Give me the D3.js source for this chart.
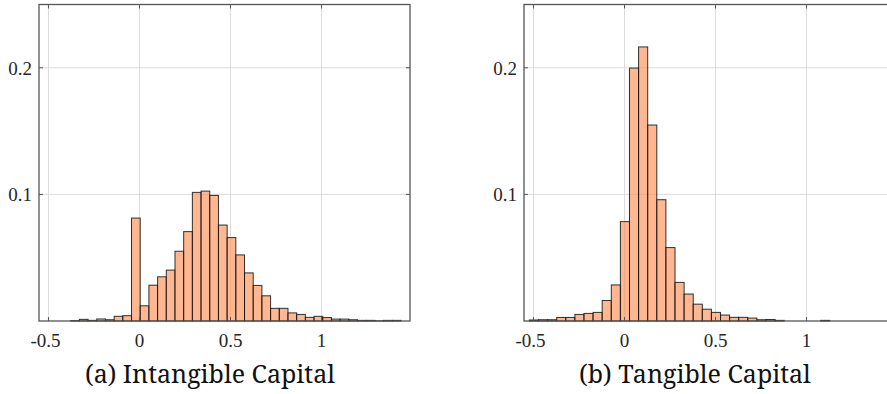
<!DOCTYPE html>
<html>
<head>
<meta charset="utf-8">
<script src="https://cdn.jsdelivr.net/npm/d3@7"></script>
<style>
  html, body { margin: 0; padding: 0; background: #fff; }
  svg { display: block; }
</style>
</head>
<body>
<svg id="chart" width="887" height="394"></svg>
<script>
// Histogram bins: first left edge, bin width, and probability per bin
const intangibleBinStart = -0.378;
const intangibleBinWidth = 0.04775;
const intangibleValues = [
  0.0003, 0.0013, 0.0005, 0.0016, 0.0010, 0.0037, 0.0042, 0.0813,
  0.0120, 0.0283, 0.0349, 0.0402, 0.0551, 0.0706, 0.1016, 0.1026,
  0.0992, 0.0758, 0.0659, 0.0522, 0.0380, 0.0281, 0.0199, 0.0100,
  0.0100, 0.0064, 0.0052, 0.0029, 0.0037, 0.0027, 0.0015, 0.0015,
  0.0010, 0.0005, 0.0005, 0.0001, 0.0005, 0.0005
];

const tangibleBinStart = -0.5225;
const tangibleBinWidth = 0.05;
const tangibleValues = [
  0.0008, 0.0010, 0.0010, 0.0028, 0.0028, 0.0052, 0.0060, 0.0068,
  0.0162, 0.0285, 0.0785, 0.1998, 0.2165, 0.1548, 0.0958, 0.0580,
  0.0305, 0.0213, 0.0133, 0.0093, 0.0068, 0.0047, 0.0029, 0.0029,
  0.0023, 0.0010, 0.0012, 0.0005, 0, 0, 0, 0, 0.0005
];

const xTickValues = [-0.5, 0, 0.5, 1];
const xTickLabels = ["-0.5", "0", "0.5", "1"];
const yTickValues = [0.1, 0.2];
const yTickLabels = ["0.1", "0.2"];

const captions = ["(a) Intangible Capital", "(b) Tangible Capital"];

const xDomain = [-0.552, 1.486];
const yDomain = [0, 0.25];

const tickFont = "Liberation Serif";
const captionFont = "Noto Serif";

const svg = d3.select("#chart");

function drawPanel(left, binStart, binWidth, values) {
  const plotW = 371;
  const top = 4.5, bottom = 321;
  const x = d3.scaleLinear().domain(xDomain).range([left, left + plotW]);
  const y = d3.scaleLinear().domain(yDomain).range([bottom, top]);
  const g = svg.append("g");

  // grid
  g.selectAll(".vgrid").data(xTickValues).join("line")
    .attr("x1", d => x(d)).attr("x2", d => x(d))
    .attr("y1", top).attr("y2", bottom)
    .attr("stroke", "#dcdcdc").attr("stroke-width", 1);
  g.selectAll(".hgrid").data(yTickValues).join("line")
    .attr("x1", left).attr("x2", left + plotW)
    .attr("y1", d => y(d)).attr("y2", d => y(d))
    .attr("stroke", "#dcdcdc").attr("stroke-width", 1);

  // bars
  const bins = values.map((v, i) => ({
    x0: binStart + i * binWidth,
    x1: binStart + (i + 1) * binWidth,
    v
  })).filter(d => d.v > 0);
  g.selectAll(".bar").data(bins).join("rect")
    .attr("x", d => x(d.x0))
    .attr("width", d => x(d.x1) - x(d.x0))
    .attr("y", d => y(d.v))
    .attr("height", d => y(0) - y(d.v))
    .attr("fill", "#ff8a4d").attr("fill-opacity", 0.62)
    .attr("stroke", "#111").attr("stroke-opacity", 0.85).attr("stroke-width", 1);

  // box
  const axisColor = "#555";
  g.append("rect")
    .attr("x", left).attr("y", top)
    .attr("width", plotW).attr("height", bottom - top)
    .attr("fill", "none").attr("stroke", axisColor).attr("stroke-width", 1.3);

  // inward ticks on all four sides
  const tl = 4;
  xTickValues.forEach(v => {
    g.append("line").attr("x1", x(v)).attr("x2", x(v))
      .attr("y1", bottom).attr("y2", bottom - tl).attr("stroke", axisColor);
    g.append("line").attr("x1", x(v)).attr("x2", x(v))
      .attr("y1", top).attr("y2", top + tl).attr("stroke", axisColor);
  });
  yTickValues.forEach(v => {
    g.append("line").attr("x1", left).attr("x2", left + tl)
      .attr("y1", y(v)).attr("y2", y(v)).attr("stroke", axisColor);
    g.append("line").attr("x1", left + plotW).attr("x2", left + plotW - tl)
      .attr("y1", y(v)).attr("y2", y(v)).attr("stroke", axisColor);
  });

  // tick labels
  g.selectAll(".xl").data(xTickValues).join("text")
    .style("font-family", tickFont).style("font-size", "19px").attr("fill", "#262626")
    .attr("x", (d, i) => x(d) - (xTickLabels[i].startsWith("-") ? 3 : 0))
    .attr("y", 347)
    .attr("text-anchor", "middle")
    .text((d, i) => xTickLabels[i]);
  g.selectAll(".yl").data(yTickValues).join("text")
    .style("font-family", tickFont).style("font-size", "19px").attr("fill", "#262626")
    .attr("x", left - 7)
    .attr("y", d => y(d) + 7)
    .attr("text-anchor", "end")
    .text((d, i) => yTickLabels[i]);
}

drawPanel(39, intangibleBinStart, intangibleBinWidth, intangibleValues);
drawPanel(524, tangibleBinStart, tangibleBinWidth, tangibleValues);

[210, 695].forEach((cx, i) => {
  svg.append("text")
    .style("font-family", captionFont).style("font-size", "25px").attr("fill", "#111")
    .attr("x", cx).attr("y", 383).attr("text-anchor", "middle")
    .text(captions[i]);
});
</script>
</body>
</html>
